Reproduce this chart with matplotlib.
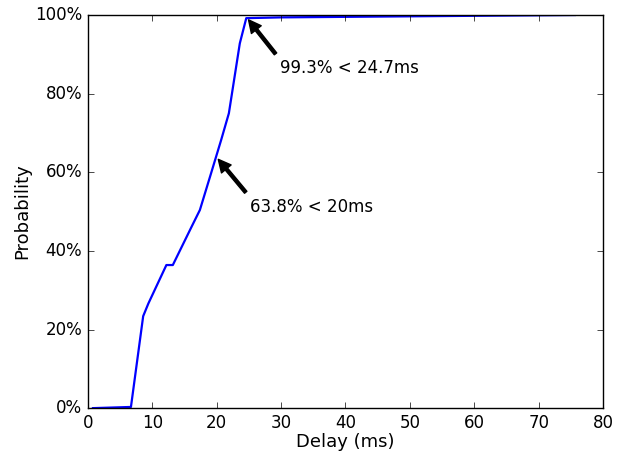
import matplotlib
matplotlib.use("Agg")
import matplotlib.pyplot as plt
from matplotlib.ticker import PercentFormatter

# CDF of delay
DELAY_MS = [0.8, 6.7, 8.6, 9.4, 12.2, 13.2, 16.1, 17.4, 19.0, 20.7, 21.9, 23.6, 24.6,
            30.0, 45.0, 60.0, 75.6]
PROB_PCT = [0.0, 0.3, 23.4, 26.6, 36.4, 36.4, 46.1, 50.4, 59.0, 68.2, 75.0, 92.8, 99.2,
            99.4, 99.6, 99.8, 100.0]

NOTES = [
    ("99.3% < 24.7ms", (24.7, 99.3), (29.8, 85.2)),
    ("63.8% < 20ms", (20.0, 63.8), (25.2, 50.0)),
]

plt.style.use("classic")
fig = plt.figure(figsize=(6.27, 4.55), dpi=100)
fig.patch.set_facecolor("white")
ax = fig.add_axes([0.140, 0.103, 0.822, 0.864])

ax.plot(DELAY_MS, PROB_PCT, color="blue", linewidth=1.6)

for label, xy, xytext in NOTES:
    ax.annotate(label, xy=xy, xytext=xytext, fontsize=12,
                arrowprops=dict(facecolor="black", shrink=0.05,
                                width=2.2, headwidth=9, headlength=9))

ax.set_xlim(0, 80)
ax.set_ylim(0, 100)
ax.set_yticks([0, 20, 40, 60, 80, 100])
ax.yaxis.set_major_formatter(PercentFormatter(decimals=0))
ax.set_xlabel("Delay (ms)", fontsize=13, labelpad=1)
ax.set_ylabel("Probability", fontsize=13, labelpad=3)
ax.tick_params(labelsize=12)

fig.savefig("out.png", dpi=100, facecolor="white")
